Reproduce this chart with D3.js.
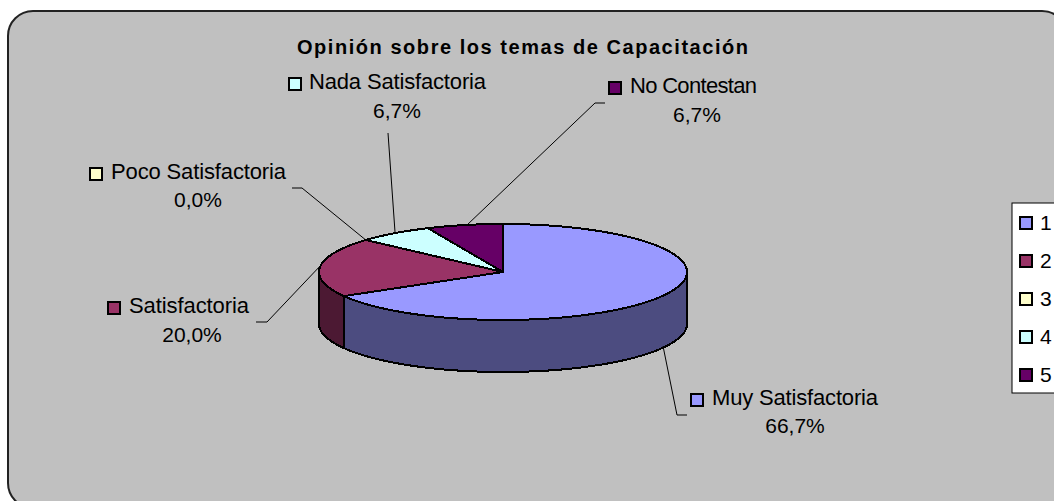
<!DOCTYPE html>
<html>
<head>
  <script src="https://d3js.org/d3.v7.min.js"></script>
  <style>
    html, body { margin: 0; padding: 0; background: #fff; overflow: hidden; }
    text { font-family: "Liberation Sans", Arial, sans-serif; fill: #000; }
    .leader { fill: none; stroke: #000; stroke-width: 1; }
    .edge { stroke: #000; stroke-width: 2; stroke-linejoin: round; shape-rendering: crispEdges; }
  </style>
</head>
<body>
<script>
// values
const categories = ["Muy Satisfactoria", "Satisfactoria", "Poco Satisfactoria", "Nada Satisfactoria", "No Contestan"];
const percents = [66.7, 20.0, 0.0, 6.7, 6.7];
const legendLabels = ["1", "2", "3", "4", "5"];
const titleText = "Opinión sobre los temas de Capacitación";

const colors = ["#9999FF", "#993366", "#FFFFCC", "#CCFFFF", "#660066"];
const sideColors = ["#4C4C80", "#4C1933", "#808066", "#668080", "#330033"];

const width = 1054;
const height = 501;

const svg = d3.select("body").append("svg")
    .attr("width", width)
    .attr("height", height)
    .style("display", "block");

// chart panel, runs off the right and bottom of the picture
svg.append("rect")
    .attr("x", 8).attr("y", 11)
    .attr("width", 1059).attr("height", 497)
    .attr("rx", 25).attr("ry", 25)
    .attr("fill", "#C0C0C0")
    .attr("stroke", "#222")
    .attr("stroke-width", 2);

svg.append("text")
    .attr("x", 297).attr("y", 54)
    .attr("font-size", 20)
    .attr("font-weight", "bold")
    .attr("textLength", 451)
    .text(titleText);

// pie geometry
const cx = 503, cy = 272, rx = 184, ry = 48, depth = 52;

const slices = d3.pie().sort(null).value(d => d)(percents);

function rimPoint(angle, drop) {
    return [cx + rx * Math.sin(angle), cy - ry * Math.cos(angle) + drop];
}

function rimPoints(a0, a1, drop) {
    const n = Math.max(2, Math.ceil((a1 - a0) / 0.02));
    return d3.range(n + 1).map(i => rimPoint(a0 + (a1 - a0) * i / n, drop));
}

const lineGen = d3.line();

// outer wall, only the part facing the viewer (angles PI/2 to 3PI/2)
slices.forEach((s, i) => {
    const a0 = Math.max(s.startAngle, Math.PI / 2);
    const a1 = Math.min(s.endAngle, 3 * Math.PI / 2);
    if (a1 <= a0) return;
    const pts = rimPoints(a0, a1, 0).concat(rimPoints(a0, a1, depth).reverse());
    svg.append("path")
        .attr("class", "edge")
        .attr("d", lineGen(pts) + "Z")
        .attr("fill", sideColors[i]);
});

// top faces
slices.forEach((s, i) => {
    if (s.endAngle === s.startAngle) return;
    const pts = [[cx, cy]].concat(rimPoints(s.startAngle, s.endAngle, 0));
    svg.append("path")
        .attr("class", "edge")
        .attr("d", lineGen(pts) + "Z")
        .attr("fill", colors[i]);
});

// leader lines
const leaders = [
    [[663, 346], [677, 415], [687, 415]],
    [[322, 264], [267, 322], [256, 322]],
    [[367, 241], [302, 188], [292, 188]],
    [[395, 232], [388, 133]],
    [[467, 225], [595, 103], [605, 103]]
];
leaders.forEach(pts => {
    svg.append("path").attr("class", "leader").attr("d", lineGen(pts));
});

function swatch(x, y, color) {
    svg.append("rect")
        .attr("x", x).attr("y", y)
        .attr("width", 12).attr("height", 12)
        .attr("fill", color)
        .attr("stroke", "#000")
        .attr("stroke-width", 2);
}

// where each label sits: swatch corner, name start/width/baseline, percent centre/baseline
const labelSpots = [
    { sx: 691, sy: 394, x: 712, w: 166, y: 405, px: 795, py: 433 },
    { sx: 108, sy: 302, x: 129, w: 120, y: 313, px: 192, py: 342 },
    { sx: 90, sy: 168, x: 111, w: 175, y: 179, px: 198, py: 207 },
    { sx: 289, sy: 78, x: 309, w: 177, y: 89, px: 397, py: 118 },
    { sx: 609, sy: 82, x: 630, w: 127, y: 93, px: 697, py: 122 }
];
const labelFormat = v => v.toFixed(1).replace(".", ",") + "%";

categories.forEach((name, i) => {
    const spot = labelSpots[i];
    swatch(spot.sx, spot.sy, colors[i]);
    svg.append("text")
        .attr("x", spot.x).attr("y", spot.y)
        .attr("font-size", 22)
        .attr("textLength", spot.w)
        .text(name);
    svg.append("text")
        .attr("x", spot.px).attr("y", spot.py)
        .attr("text-anchor", "middle")
        .attr("font-size", 21)
        .text(labelFormat(percents[i]));
});

// legend
svg.append("rect")
    .attr("x", 1012).attr("y", 203)
    .attr("width", 60).attr("height", 190)
    .attr("fill", "#fff")
    .attr("stroke", "#000")
    .attr("stroke-width", 1);

const legendY = d3.scalePoint().domain(legendLabels).range([223, 375]);

legendLabels.forEach((d, i) => {
    swatch(1020, legendY(d) - 6, colors[i]);
    svg.append("text")
        .attr("x", 1040).attr("y", legendY(d) + 7)
        .attr("font-size", 21)
        .text(d);
});
</script>
</body>
</html>
